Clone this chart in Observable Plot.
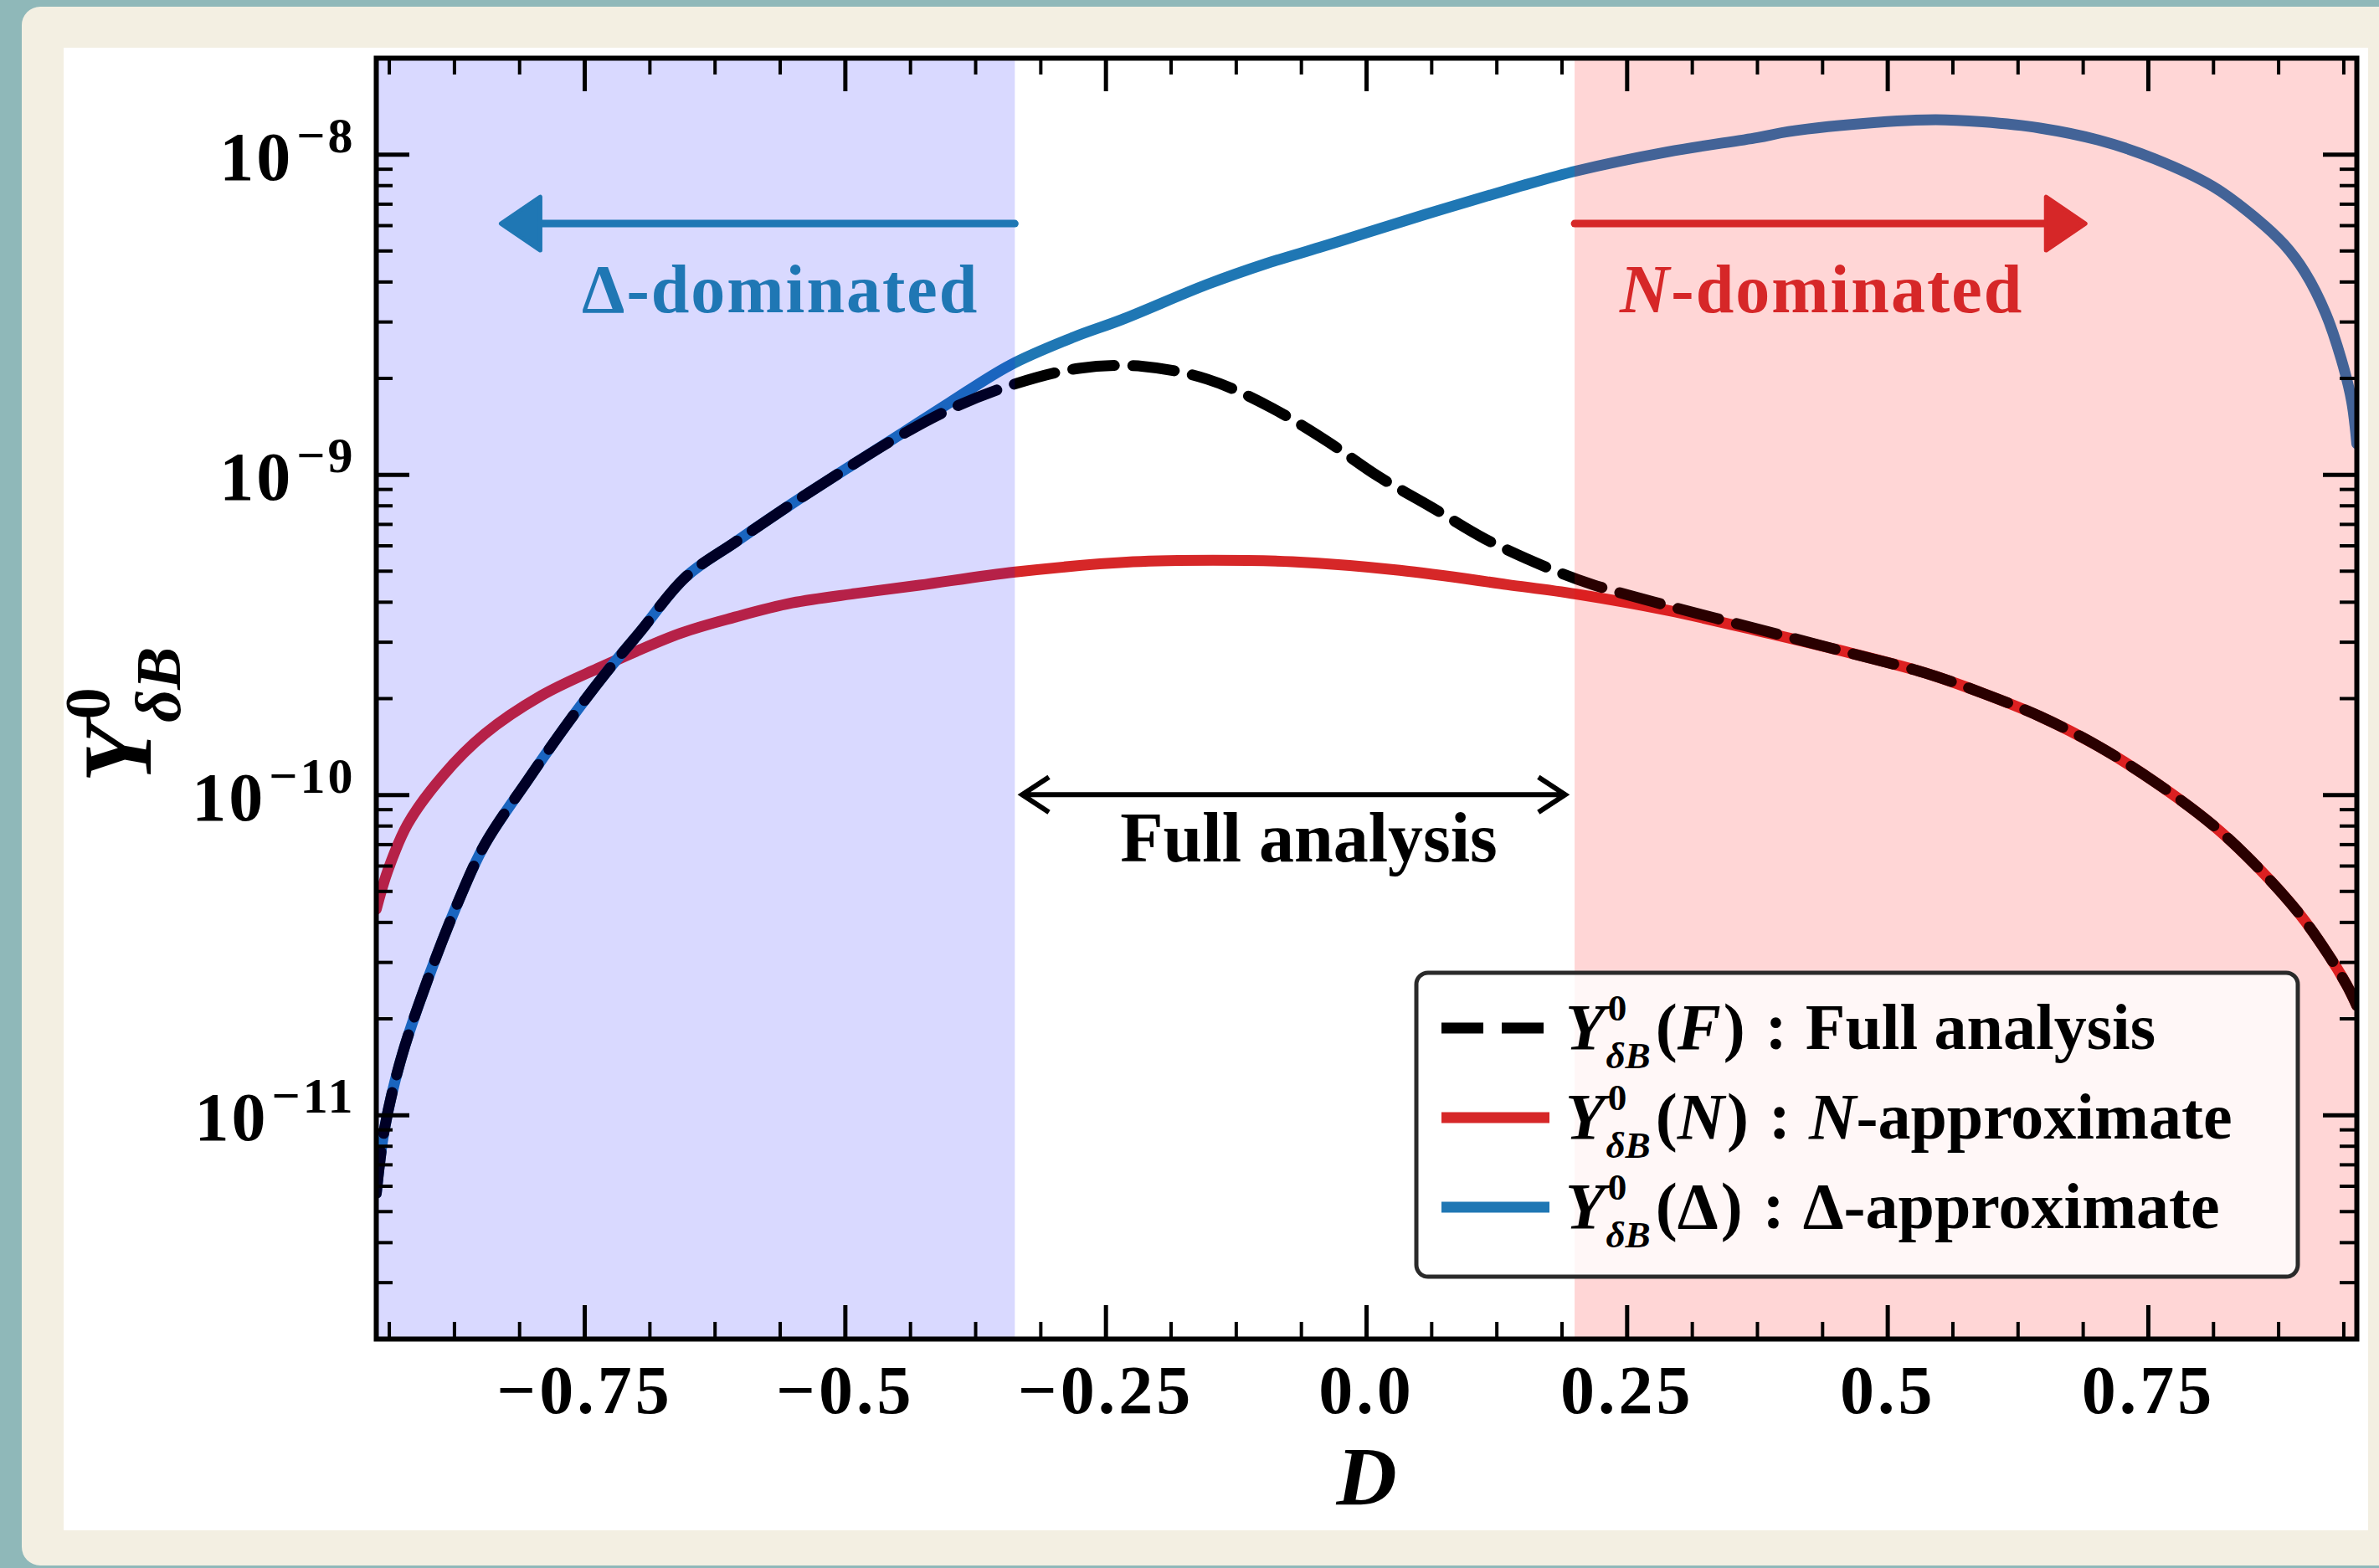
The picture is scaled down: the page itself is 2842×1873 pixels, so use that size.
<!DOCTYPE html>
<html><head><meta charset="utf-8">
<script src="https://cdn.jsdelivr.net/npm/d3@7"></script>
<script src="https://cdn.jsdelivr.net/npm/@observablehq/plot@0.6"></script>
<style>
html,body{margin:0;padding:0;width:2842px;height:1873px;overflow:hidden;background:#8fb8b9;}
#mat{position:absolute;left:26px;top:8px;width:2840px;height:1862px;background:#f3efe2;border-radius:22px;}
#paper{position:absolute;left:76px;top:57px;width:2753px;height:1771px;background:#ffffff;}
#chart{position:absolute;left:0;top:0;}
</style></head><body>
<div id="mat"></div><div id="paper"></div><div id="chart"></div>
<script>
// ---------- data ----------
const D_delta = [-0.95, -0.942, -0.926, -0.902, -0.872, -0.846, -0.805, -0.765, -0.73, -0.698, -0.653, -0.605, -0.551, -0.498, -0.45, -0.4, -0.342, -0.281, -0.235, -0.153, -0.096, -0.045, 0.0, 0.056, 0.144, 0.202, 0.289, 0.375, 0.405, 0.489, 0.546, 0.591, 0.646, 0.702, 0.756, 0.812, 0.854, 0.88, 0.9, 0.92, 0.935, 0.945, 0.95];
const Y_delta = [5.7e-12, 9.1e-12, 1.51e-11, 2.58e-11, 4.59e-11, 7.0e-11, 1.11e-10, 1.70e-10, 2.40e-10, 3.2e-10, 4.80e-10, 6.18e-10, 8.13e-10, 1.05e-9, 1.32e-9, 1.68e-9, 2.20e-9, 2.69e-9, 3.05e-9, 3.93e-9, 4.57e-9, 5.13e-9, 5.7e-9, 6.5e-9, 7.9e-9, 8.9e-9, 1.02e-8, 1.13e-8, 1.18e-8, 1.26e-8, 1.285e-8, 1.265e-8, 1.21e-8, 1.11e-8, 9.7e-9, 7.95e-9, 6.3e-9, 5.25e-9, 4.3e-9, 3.2e-9, 2.3e-9, 1.7e-9, 1.25e-9];

const D_N = [-0.95, -0.939, -0.92, -0.886, -0.846, -0.792, -0.738, -0.658, -0.605, -0.551, -0.49, -0.429, -0.337, -0.224, -0.147, -0.071, 0.032, 0.135, 0.201, 0.289, 0.375, 0.45, 0.535, 0.591, 0.646, 0.702, 0.756, 0.812, 0.854, 0.895, 0.923, 0.94, 0.95];
const Y_N = [4.4e-11, 5.8e-11, 8.1e-11, 1.15e-10, 1.55e-10, 2.04e-10, 2.48e-10, 3.2e-10, 3.6e-10, 3.98e-10, 4.26e-10, 4.52e-10, 4.97e-10, 5.35e-10, 5.41e-10, 5.35e-10, 5.03e-10, 4.54e-10, 4.24e-10, 3.77e-10, 3.26e-10, 2.85e-10, 2.41e-10, 2.08e-10, 1.76e-10, 1.42e-10, 1.10e-10, 8.05e-11, 5.99e-11, 4.25e-11, 3.16e-11, 2.56e-11, 2.2e-11];

const D_full = [-0.95, -0.942, -0.926, -0.902, -0.872, -0.846, -0.805, -0.765, -0.73, -0.698, -0.653, -0.605, -0.551, -0.498, -0.45, -0.4, -0.342, -0.276, -0.214, -0.153, -0.096, -0.039, 0.011, 0.063, 0.114, 0.176, 0.217, 0.289, 0.375, 0.45, 0.535, 0.591, 0.646, 0.702, 0.756, 0.812, 0.854, 0.895, 0.923, 0.94, 0.95];
const Y_full = [5.7e-12, 9.1e-12, 1.51e-11, 2.58e-11, 4.59e-11, 7.0e-11, 1.11e-10, 1.70e-10, 2.40e-10, 3.2e-10, 4.80e-10, 6.18e-10, 8.13e-10, 1.05e-9, 1.31e-9, 1.60e-9, 1.90e-9, 2.15e-9, 2.18e-9, 1.99e-9, 1.65e-9, 1.28e-9, 9.9e-10, 7.9e-10, 6.3e-10, 5.09e-10, 4.54e-10, 3.90e-10, 3.30e-10, 2.85e-10, 2.41e-10, 2.08e-10, 1.76e-10, 1.42e-10, 1.10e-10, 8.05e-11, 5.99e-11, 4.25e-11, 3.16e-11, 2.56e-11, 2.2e-11];

const xDomain = [-0.95, 0.95];
const yDomain = [2e-12, 2e-8];
const xMajorTicks = [-0.75, -0.5, -0.25, 0, 0.25, 0.5, 0.75];
const xTickLabels = ["\u22120.75", "\u22120.5", "\u22120.25", "0.0", "0.25", "0.5", "0.75"];
const yMajorTicks = [1e-11, 1e-10, 1e-9, 1e-8];
const yTickLabels = ["10^\u221211", "10^\u221210", "10^\u22129", "10^\u22128"];
const spanFrom = [-0.95, 0.2];
const spanTo = [-0.337, 0.95];
const regionNames = ["\u0394-dominated", "N-dominated"];
const fullLabel = "Full analysis";
const legendArgs = ["F", "N", "\u0394"];
const legendTexts = ["Full analysis", "-approximate", "-approximate"];

// ---------- styling ----------
const SERIF = "'Liberation Serif', 'Times New Roman', serif";
const C_BLUE = "#1f77b4", C_RED = "#d62728";
const W = 2842, H = 1873, ML = 449, MR = 27, MT = 69, MB = 274;
const FW = W - ML - MR, FH = H - MT - MB;

const rows = (xs, ys) => xs.map((d, i) => ({D: d, Y: ys[i]}));
const sDelta = rows(D_delta, Y_delta), sN = rows(D_N, Y_N), sFull = rows(D_full, Y_full);

const xMinor = d3.range(-15, 16).map(k => k * 0.0625).filter(v => Math.abs(v) < 0.95 && !xMajorTicks.some(m => Math.abs(m - v) < 1e-9));
const yMinor = [];
for (let e = -12; e <= -8; e++) for (let k = 2; k <= 9; k++) { const v = k * Math.pow(10, e); if (v > yDomain[0] * 1.0001 && v < yDomain[1] * 0.9999) yMinor.push(v); }

const plot = Plot.plot({
  width: W, height: H,
  marginLeft: ML, marginRight: MR, marginTop: MT, marginBottom: MB,
  style: {background: "transparent", overflow: "visible", fontFamily: SERIF},
  x: {domain: xDomain, axis: null},
  y: {type: "log", domain: yDomain, axis: null},
  marks: [
    Plot.line(sN, {x: "D", y: "Y", stroke: C_RED, strokeWidth: 13, curve: "catmull-rom", clip: true}),
    Plot.line(sDelta, {x: "D", y: "Y", stroke: C_BLUE, strokeWidth: 13, curve: "catmull-rom", clip: true}),
    Plot.line(sFull, {x: "D", y: "Y", stroke: "black", strokeWidth: 13, strokeDasharray: "50,22", curve: "catmull-rom", clip: true}),
    Plot.rect([0], {x1: () => spanFrom[0], x2: () => spanTo[0], fill: "#0000ff", fillOpacity: 0.15}),
    Plot.rect([1], {x1: () => spanFrom[1], x2: () => spanTo[1], fill: "#ff0000", fillOpacity: 0.16}),
    // inward ticks, all four sides
    Plot.tickX(xMinor, {x: d => d, insetTop: FH - 20, stroke: "black", strokeWidth: 4}),
    Plot.tickX(xMinor, {x: d => d, insetBottom: FH - 20, stroke: "black", strokeWidth: 4}),
    Plot.tickX(xMajorTicks, {x: d => d, insetTop: FH - 40, stroke: "black", strokeWidth: 5}),
    Plot.tickX(xMajorTicks, {x: d => d, insetBottom: FH - 40, stroke: "black", strokeWidth: 5}),
    Plot.tickY(yMinor, {y: d => d, insetRight: FW - 20, stroke: "black", strokeWidth: 4}),
    Plot.tickY(yMinor, {y: d => d, insetLeft: FW - 20, stroke: "black", strokeWidth: 4}),
    Plot.tickY(yMajorTicks, {y: d => d, insetRight: FW - 40, stroke: "black", strokeWidth: 5}),
    Plot.tickY(yMajorTicks, {y: d => d, insetLeft: FW - 40, stroke: "black", strokeWidth: 5}),
    Plot.frame({stroke: "black", strokeWidth: 6}),
    Plot.text(xMajorTicks, {x: d => d, frameAnchor: "bottom", dy: 88, lineAnchor: "bottom", text: (d, i) => xTickLabels[i],
      fontSize: 82, fontWeight: "bold", fontFamily: SERIF, fill: "black"}),
    Plot.text(yMajorTicks, {y: d => d, frameAnchor: "left", dx: -25, dy: 4, textAnchor: "end", lineAnchor: "middle",
      text: (d, i) => yTickLabels[i], fontSize: 82, fontWeight: "bold", fontFamily: SERIF, fill: "black"}),
    Plot.text(["D"], {frameAnchor: "bottom", dy: 197, lineAnchor: "bottom", text: d => d, fontSize: 100,
      fontWeight: "bold", fontStyle: "italic", fontFamily: SERIF, fill: "black"})
  ]
});
document.getElementById("chart").append(plot);

const svg = d3.select(plot);
const sx = plot.scale("x"), sy = plot.scale("y");
const X = v => sx.apply(v), Y = v => sy.apply(v);

// wider spacing for x tick labels (closer to the reference's wide serif digits)
svg.selectAll("text").filter(function () { return xTickLabels.includes(this.textContent); })
  .attr("letter-spacing", 4);

// superscripted y tick labels
svg.selectAll("text").filter(function () { return this.textContent.includes("^"); }).each(function () {
  const [b, e] = this.textContent.split("^");
  this.textContent = "";
  const t = d3.select(this).attr("letter-spacing", 3);
  t.append("tspan").text(b);
  t.append("tspan").attr("dx", 4).attr("dy", -33).attr("font-size", 60).text(e);
});

function put(g, x, y, str, fs, italic) {
  const t = g.append("text").attr("x", x).attr("y", y).attr("font-size", fs)
    .attr("font-family", SERIF).attr("font-weight", "bold").attr("text-anchor", "start")
    .attr("font-style", italic ? "italic" : "normal").text(str);
  return x + t.node().getComputedTextLength();
}
function ysym(g, x, y, fs, sc) {
  const xe = put(g, x, y, "Y", fs, true);
  const a = put(g, xe + 0.04 * fs, y - 0.43 * fs, "0", sc * fs, false);
  const b = put(g, xe + 0.01 * fs, y + 0.30 * fs, "\u03b4", sc * fs, true);
  const c = put(g, b, y + 0.30 * fs, "B", sc * fs, true);
  return Math.max(a, c);
}

// y axis label
const gy = svg.append("g").attr("fill", "black").attr("text-anchor", "start").attr("transform", "translate(180,935) rotate(-90)");
ysym(gy, 0, 0, 116, 0.66);

// annotations
const ann = svg.append("g").attr("text-anchor", "start");
function solidArrow(fromX, toX, yv, color) {
  const x0 = X(fromX), x1 = X(toX), y = Y(yv);
  const dir = Math.sign(x1 - x0), L = 47, h = 32;
  ann.append("line").attr("x1", x0).attr("y1", y).attr("x2", x1 - dir * L).attr("y2", y)
    .attr("stroke", color).attr("stroke-width", 9).attr("stroke-linecap", "round");
  ann.append("path").attr("d", `M${x1},${y}L${x1 - dir * L},${y - h}L${x1 - dir * L},${y + h}Z`)
    .attr("fill", color).attr("stroke", color).attr("stroke-width", 5).attr("stroke-linejoin", "round");
}
solidArrow(spanTo[0], -0.83, 6.07e-9, C_BLUE);
solidArrow(spanFrom[1], 0.69, 6.07e-9, C_RED);

// region labels
ann.append("text").attr("x", X(-0.562)).attr("y", Y(3.2e-9)).attr("text-anchor", "middle").attr("fill", C_BLUE)
  .attr("font-size", 82).attr("font-weight", "bold").attr("font-family", SERIF).attr("letter-spacing", 2).text(regionNames[0]);
{
  const t = ann.append("text").attr("x", X(0.437)).attr("y", Y(3.2e-9)).attr("text-anchor", "middle").attr("fill", C_RED)
    .attr("font-size", 82).attr("font-weight", "bold").attr("font-family", SERIF).attr("letter-spacing", 2);
  t.append("tspan").attr("font-style", "italic").text(regionNames[1].slice(0, 1));
  t.append("tspan").text(regionNames[1].slice(1));
}

// double arrow "Full analysis"
{
  const x0 = X(-0.33), x1 = X(0.191), y = Y(1e-10), L = 32, h = 21;
  ann.append("path").attr("d", `M${x0},${y}H${x1}M${x0 + L},${y - h}L${x0},${y}L${x0 + L},${y + h}M${x1 - L},${y - h}L${x1},${y}L${x1 - L},${y + h}`)
    .attr("fill", "none").attr("stroke", "black").attr("stroke-width", 6).attr("stroke-linejoin", "miter");
  ann.append("text").attr("x", X(-0.055)).attr("y", Y(6.2e-11)).attr("text-anchor", "middle")
    .attr("font-size", 84).attr("font-weight", "bold").attr("font-family", SERIF).attr("fill", "black").text(fullLabel);
}

// legend
const LG = {x: 1692, y: 1162, w: 1053, h: 363};
const lg = svg.append("g").attr("text-anchor", "start");
lg.append("rect").attr("x", LG.x).attr("y", LG.y).attr("width", LG.w).attr("height", LG.h).attr("rx", 14)
  .attr("fill", "white").attr("fill-opacity", 0.8).attr("stroke", "#2a2a2a").attr("stroke-width", 5);
const handleStyles = [{stroke: "black", dash: "50,22"}, {stroke: C_RED, dash: null}, {stroke: C_BLUE, dash: null}];
const rowY = [1228, 1335, 1442];
rowY.forEach((ry, i) => {
  const ln = lg.append("line").attr("x1", 1722).attr("x2", 1851).attr("y1", ry).attr("y2", ry)
    .attr("stroke", handleStyles[i].stroke).attr("stroke-width", 13);
  if (handleStyles[i].dash) ln.attr("stroke-dasharray", handleStyles[i].dash);
  const g = lg.append("g").attr("fill", "black");
  const fs = 78, base = ry + 25;
  let x = ysym(g, 1870, base, fs, 0.58);
  x = put(g, x + 6, base, "(", fs, false);
  x = put(g, x, base, legendArgs[i], fs, legendArgs[i] !== "\u0394");
  x = put(g, x + 3, base, ")", fs, false);
  x = put(g, x + 24, base, ":", fs, false);
  x += 22;
  if (i === 0) put(g, x, base, legendTexts[0], fs, false);
  else {
    x = put(g, x, base, legendArgs[i], fs, legendArgs[i] !== "\u0394");
    put(g, x, base, legendTexts[i], fs, false);
  }
});
</script></body></html>
